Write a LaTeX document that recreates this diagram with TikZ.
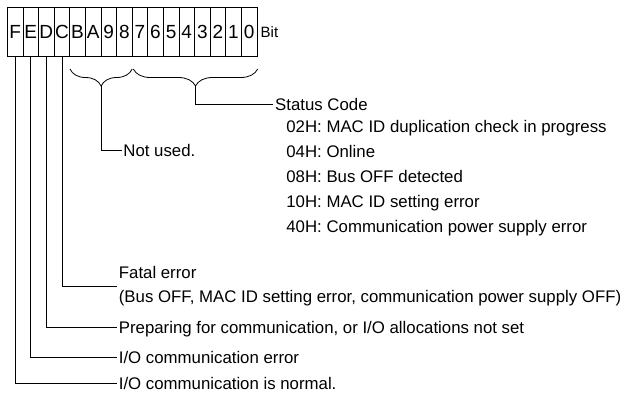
\documentclass[tikz,border=0pt]{standalone}
\usepackage{fontspec}
\setmainfont{Liberation Sans}
\usetikzlibrary{decorations.pathreplacing, positioning}

\begin{document}
\begin{tikzpicture}[x=1pt, y=-1pt, line width=0.8pt,
    cell/.style={draw, minimum width=15.6pt, minimum height=48.7pt, inner sep=0pt,
      text height=13.5pt, text depth=0pt, font=\fontsize{19}{19}\selectfont},
    lbl/.style={anchor=west, inner sep=1.5pt, font=\fontsize{16.8}{23.3}\selectfont},
    one/.style={lbl, text height=12pt, text depth=0pt},
    brc/.style={decorate, decoration={brace, amplitude=17pt}}]
  \useasboundingbox (0,0) rectangle (631,392);

  % Bit cells
  \foreach \b [count=\i from 0] in {F,E,D,C,B,A,9,8,7,6,5,4,3,2,1,0} {
    \node[cell] (b\b) at (15.1+15.6*\i, 31.65) {\b};
  }
  \node[anchor=west, inner sep=0pt, font=\fontsize{15}{15}\selectfont] (bit) at ([xshift=3pt]b0.east) {Bit};

  % Braces
  \draw[brc] (132.2,69) -- (70,69);
  \draw[brc] (257.7,69) -- (133.3,69);
  \coordinate (t1) at (101.1,86);
  \coordinate (t2) at (195.5,86);

  % Labels
  \node[one] (nu) at (121.5,150) {Not used.};
  \node[one] (sc) at (273.3,104) {Status Code};
  \foreach \y/\t [count=\k] in {126.7/{02H: MAC ID duplication check in progress},
      151.7/{04H: Online}, 176.7/{08H: Bus OFF detected},
      201.7/{10H: MAC ID setting error}, 226/{40H: Communication power supply error}} {
    \node[one] (s\k) at (284.5,\y) {\t};
  }
  \node[lbl, align=left] (fe) at (117,286) {Fatal error\\(Bus OFF, MAC ID setting error, communication power supply OFF)};
  \node[one] (pr) at (117,327) {Preparing for communication, or I/O allocations not set};
  \node[one] (ce) at (117,357.5) {I/O communication error};
  \node[one] (cn) at (117,383) {I/O communication is normal.};

  % Connectors
  \draw (t1) |- (nu.west);
  \draw (t2) |- (sc.west);
  \draw (bC.south) |- (fe.west);
  \draw (bD.south) |- (pr.west);
  \draw (bE.south) |- (ce.west);
  \draw (bF.south) |- (cn.west);
\end{tikzpicture}
\end{document}
